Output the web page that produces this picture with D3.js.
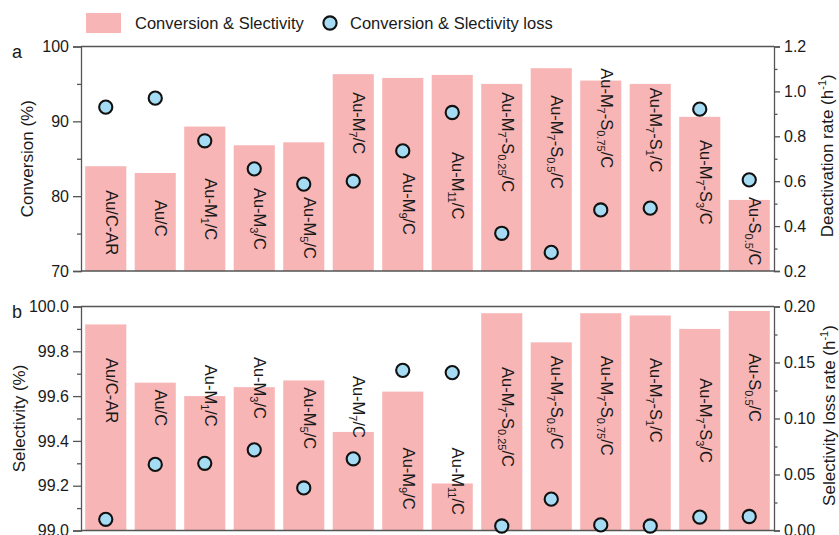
<!DOCTYPE html>
<html>
<head>
<meta charset="utf-8">
<script src="https://cdn.jsdelivr.net/npm/d3@7"></script>
<style>
  body { margin: 0; background: #fff; }
  svg { display: block; }
  text { font-family: "Liberation Sans", Arial, Helvetica, sans-serif; fill: #1a1a1a; }
</style>
</head>
<body>
<svg id="chart" width="839" height="535"></svg>
<script>
// Catalysts; "_{...}" marks a subscript
const categories = [
  "Au/C-AR", "Au/C", "Au-M_{1}/C", "Au-M_{3}/C", "Au-M_{5}/C", "Au-M_{7}/C", "Au-M_{9}/C",
  "Au-M_{11}/C", "Au-M_{7}-S_{0.25}/C", "Au-M_{7}-S_{0.5}/C", "Au-M_{7}-S_{0.75}/C",
  "Au-M_{7}-S_{1}/C", "Au-M_{7}-S_{3}/C", "Au-S_{0.5}/C"
];

// Panel a
const conversion = [84.0, 83.1, 89.3, 86.8, 87.2, 96.3, 95.8, 96.2, 95.0, 97.1, 95.45, 95.0, 90.6, 79.5];
const deactivationRate = [0.93, 0.97, 0.78, 0.655, 0.587, 0.60, 0.735, 0.906, 0.368, 0.283, 0.472, 0.48, 0.921, 0.606];

// Panel b
const selectivity = [99.92, 99.66, 99.60, 99.64, 99.67, 99.44, 99.62, 99.21, 99.97, 99.84, 99.97, 99.96, 99.90, 99.98];
const selectivityLossRate = [0.010, 0.059, 0.060, 0.072, 0.038, 0.064, 0.143, 0.141, 0.004, 0.028, 0.005, 0.004, 0.012, 0.0125];

// Tick values
const conversionTicks = [70, 80, 90, 100];
const deactivationTicks = [0.2, 0.4, 0.6, 0.8, 1.0, 1.2];
const selectivityTicks = [99.0, 99.2, 99.4, 99.6, 99.8, 100.0];
const lossTicks = [0.00, 0.05, 0.10, 0.15, 0.20];

// Where each rotated category label begins, in left-axis units
const conversionLabelStart = [80.8, 79.5, 82.4, 81.1, 79.9, 93.9, 83.1, 85.9, 93.9, 93.5, 97.1, 94.5, 87.5, 79.9];
const selectivityLabelStart = [99.77, 99.63, 99.74, 99.775, 99.64, 99.69, 99.37, 99.37, 99.73, 99.78, 99.78, 99.77, 99.68, 99.79];

const BAR = "#f8b5b5";
const DOT = "#a6dcf3";
const AXIS = "#555";

const svg = d3.select("#chart");
const left = 81, right = 774;

const x = d3.scaleBand()
  .domain(categories)
  .range([left, right])
  .paddingInner(0.17)
  .paddingOuter(0.085);

function parseLabel(s) {
  const parts = [];
  const re = /_\{([^}]*)\}/g;
  let last = 0, m;
  while ((m = re.exec(s)) !== null) {
    if (m.index > last) parts.push({ t: s.slice(last, m.index), sub: false });
    parts.push({ t: m[1], sub: true });
    last = re.lastIndex;
  }
  if (last < s.length) parts.push({ t: s.slice(last), sub: false });
  return parts;
}

function minorBetween(ticks) {
  const out = [];
  for (let i = 0; i < ticks.length - 1; i++) out.push((ticks[i] + ticks[i + 1]) / 2);
  return out;
}

function styleAxis(g) {
  g.selectAll("path.domain").attr("stroke", AXIS).attr("stroke-width", 1.3);
  g.selectAll(".tick line").attr("stroke", AXIS).attr("stroke-width", 1.3);
  g.selectAll(".tick text").attr("font-size", 16).attr("fill", "#1a1a1a")
    .style("font-family", '"Liberation Sans", Arial, sans-serif');
}

function panel(opts) {
  const { top, bottom, yDomain, y2Domain, barVals, dotVals, yTicks, y2Ticks,
          yFmt, y2Fmt, labelStart, letter, yTitle, y2Title, y2TitleX, yTitleX } = opts;
  const y = d3.scaleLinear().domain(yDomain).range([bottom, top]);
  const y2 = d3.scaleLinear().domain(y2Domain).range([bottom, top]);
  const g = svg.append("g");

  // bars
  g.selectAll("rect.bar").data(categories).join("rect")
    .attr("class", "bar")
    .attr("x", d => x(d))
    .attr("width", x.bandwidth())
    .attr("y", (d, i) => y(barVals[i]))
    .attr("height", (d, i) => bottom - y(barVals[i]))
    .attr("fill", BAR);

  // rotated category labels inside the bars
  categories.forEach((c, i) => {
    const cx = x(c) + x.bandwidth() / 2;
    const t = g.append("text")
      .attr("transform", `translate(${cx},${y(labelStart[i])}) rotate(90)`)
      .attr("font-size", 16.5)
      .attr("dy", "0.36em");
    let shifted = false;
    parseLabel(c).forEach(p => {
      const ts = t.append("tspan").text(p.t);
      if (p.sub) {
        ts.attr("font-size", 11).attr("dy", shifted ? 0 : 4);
        shifted = true;
      } else {
        ts.attr("dy", shifted ? -4 : 0);
        shifted = false;
      }
    });
  });

  // frame: top and bottom
  g.append("line").attr("x1", left).attr("x2", right).attr("y1", top).attr("y2", top)
    .attr("stroke", AXIS).attr("stroke-width", 1.3);
  g.append("line").attr("x1", left).attr("x2", right).attr("y1", bottom).attr("y2", bottom)
    .attr("stroke", AXIS).attr("stroke-width", 1.3);

  // left axis
  const gl = g.append("g").attr("transform", `translate(${left},0)`)
    .call(d3.axisLeft(y).tickValues(yTicks).tickSize(8).tickPadding(4).tickFormat(d3.format(yFmt)));
  styleAxis(gl);
  const glm = g.append("g").attr("transform", `translate(${left},0)`)
    .call(d3.axisLeft(y).tickValues(minorBetween(yTicks)).tickSize(4).tickFormat(""));
  styleAxis(glm);
  glm.select("path.domain").remove();

  // right axis
  const gr = g.append("g").attr("transform", `translate(${right},0)`)
    .call(d3.axisRight(y2).tickValues(y2Ticks).tickSize(6).tickPadding(4).tickFormat(d3.format(y2Fmt)));
  styleAxis(gr);
  const grm = g.append("g").attr("transform", `translate(${right},0)`)
    .call(d3.axisRight(y2).tickValues(minorBetween(y2Ticks)).tickSize(3.5).tickFormat(""));
  styleAxis(grm);
  grm.select("path.domain").remove();

  // loss-rate markers
  g.selectAll("circle.dot").data(categories).join("circle")
    .attr("class", "dot")
    .attr("cx", d => x(d) + x.bandwidth() / 2)
    .attr("cy", (d, i) => y2(dotVals[i]))
    .attr("r", 6.6)
    .attr("fill", DOT)
    .attr("stroke", "#111")
    .attr("stroke-width", 2.1);

  // panel letter
  g.append("text").attr("x", 12).attr("y", top + 11).attr("font-size", 18).text(letter);

  // axis titles
  const mid = (top + bottom) / 2;
  g.append("text")
    .attr("transform", `translate(${yTitleX},${mid}) rotate(-90)`)
    .attr("text-anchor", "middle").attr("font-size", 17).text(yTitle);
  const t2 = g.append("text")
    .attr("transform", `translate(${y2TitleX},${mid - 3}) rotate(-90)`)
    .attr("text-anchor", "middle").attr("font-size", 17);
  t2.append("tspan").text(y2Title + " (h");
  t2.append("tspan").attr("font-size", 11).attr("dy", -7).text("-1");
  t2.append("tspan").attr("dy", 7).text(")");
}

panel({
  top: 46.5, bottom: 271,
  yDomain: [70, 100], y2Domain: [0.2, 1.2],
  barVals: conversion, dotVals: deactivationRate,
  yTicks: conversionTicks, y2Ticks: deactivationTicks,
  yFmt: "d", y2Fmt: ".1f",
  labelStart: conversionLabelStart,
  letter: "a", yTitle: "Conversion (%)", yTitleX: 33,
  y2Title: "Deactivation rate", y2TitleX: 833
});

panel({
  top: 306.5, bottom: 530.5,
  yDomain: [99.0, 100.0], y2Domain: [0, 0.2],
  barVals: selectivity, dotVals: selectivityLossRate,
  yTicks: selectivityTicks, y2Ticks: lossTicks,
  yFmt: ".1f", y2Fmt: ".2f",
  labelStart: selectivityLabelStart,
  letter: "b", yTitle: "Selectivity (%)", yTitleX: 25,
  y2Title: "Selectivity loss rate", y2TitleX: 835
});

// legend
const lg = svg.append("g");
lg.append("rect").attr("x", 86).attr("y", 13).attr("width", 35).attr("height", 20).attr("fill", BAR);
lg.append("text").attr("x", 135).attr("y", 29).attr("font-size", 16.5).text("Conversion & Slectivity");
lg.append("circle").attr("cx", 330).attr("cy", 23).attr("r", 6.6)
  .attr("fill", DOT).attr("stroke", "#111").attr("stroke-width", 2.1);
lg.append("text").attr("x", 350).attr("y", 29).attr("font-size", 16.5).text("Conversion & Slectivity loss");
</script>
</body>
</html>
